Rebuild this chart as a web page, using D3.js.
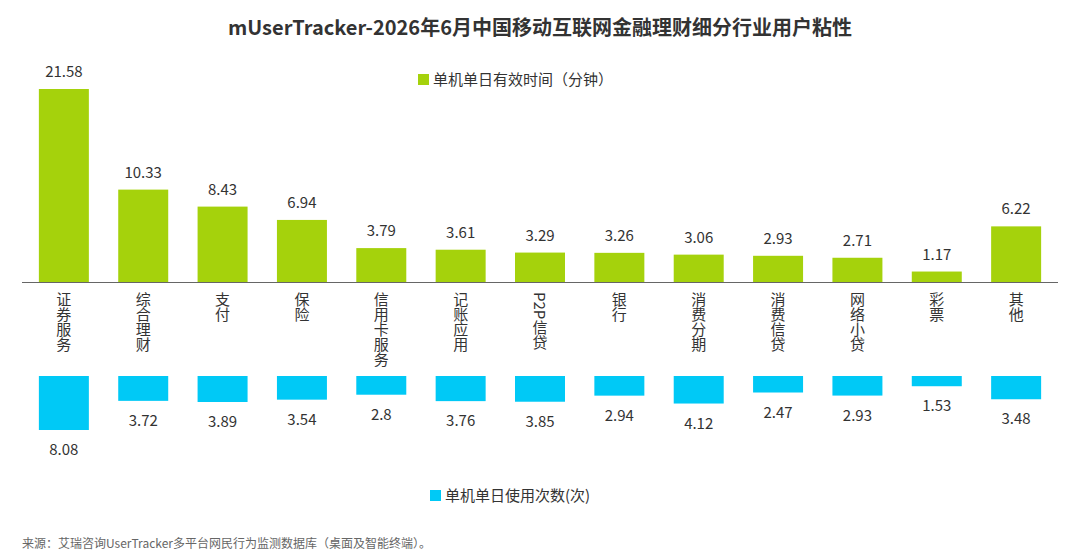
<!DOCTYPE html><html><head><meta charset="utf-8"><script src="https://cdn.jsdelivr.net/npm/d3@7/dist/d3.min.js"></script>
<style>body{margin:0;background:#fff}text{font-family:"Noto Sans CJK SC","Open Sans",sans-serif}</style></head><body><svg id="c" width="1080" height="557"></svg>
<script>
const categories=["证券服务","综合理财","支付","保险","信用卡服务","记账应用","P2P信贷","银行","消费分期","消费信贷","网络小贷","彩票","其他"];
const timeValues=[21.58,10.33,8.43,6.94,3.79,3.61,3.29,3.26,3.06,2.93,2.71,1.17,6.22];
const countValues=[8.08,3.72,3.89,3.54,2.8,3.76,3.85,2.94,4.12,2.47,2.93,1.53,3.48];
const svg=d3.select("#c");
const green="#a5d20c",cyan="#00c9f6";
const x=d3.scaleBand().domain(categories).range([23,1057]).paddingInner(0.37).paddingOuter(0.2);
const yT=d3.scaleLinear().domain([0,21.58]).range([282,89]);
const yC=d3.scaleLinear().domain([0,8.08]).range([376,430]);
svg.append("text").attr("x",540).attr("y",35).attr("text-anchor","middle").attr("font-size",20).attr("font-weight","bold").attr("fill","#333").text("mUserTracker-2026年6月中国移动互联网金融理财细分行业用户粘性");
svg.append("line").attr("x1",22).attr("x2",1058).attr("y1",282.5).attr("y2",282.5).attr("stroke","#666");
svg.selectAll(".t").data(timeValues).join("rect").attr("x",(d,i)=>x(categories[i])).attr("width",x.bandwidth()).attr("y",d=>yT(d)).attr("height",d=>282-yT(d)).attr("fill",green);
svg.selectAll(".tl").data(timeValues).join("text").attr("x",(d,i)=>x(categories[i])+x.bandwidth()/2).attr("y",d=>yT(d)-12).attr("text-anchor","middle").attr("font-size",15).attr("fill","#333").text(d=>d);
svg.selectAll(".c").data(countValues).join("rect").attr("x",(d,i)=>x(categories[i])).attr("width",x.bandwidth()).attr("y",376).attr("height",d=>yC(d)-376).attr("fill",cyan);
svg.selectAll(".cl").data(countValues).join("text").attr("x",(d,i)=>x(categories[i])+x.bandwidth()/2).attr("y",d=>yC(d)+25).attr("text-anchor","middle").attr("font-size",15).attr("fill","#333").text(d=>d);
svg.selectAll(".cat").data(categories).join("text").attr("x",d=>x(d)+x.bandwidth()/2).attr("y",292).attr("font-size",15).attr("fill","#333").style("writing-mode","vertical-rl").style("glyph-orientation-vertical","0").text(d=>d);
svg.append("rect").attr("x",418).attr("y",74).attr("width",11).attr("height",11).attr("fill",green);
svg.append("text").attr("x",433).attr("y",85).attr("font-size",15).attr("fill","#333").text("单机单日有效时间（分钟）");
svg.append("rect").attr("x",430).attr("y",490).attr("width",11).attr("height",11).attr("fill",cyan);
svg.append("text").attr("x",445).attr("y",501).attr("font-size",15).attr("fill","#333").text("单机单日使用次数(次)");
svg.append("text").attr("x",22).attr("y",548).attr("font-size",12).attr("fill","#666").text("来源：艾瑞咨询UserTracker多平台网民行为监测数据库（桌面及智能终端）。");
</script></body></html>
